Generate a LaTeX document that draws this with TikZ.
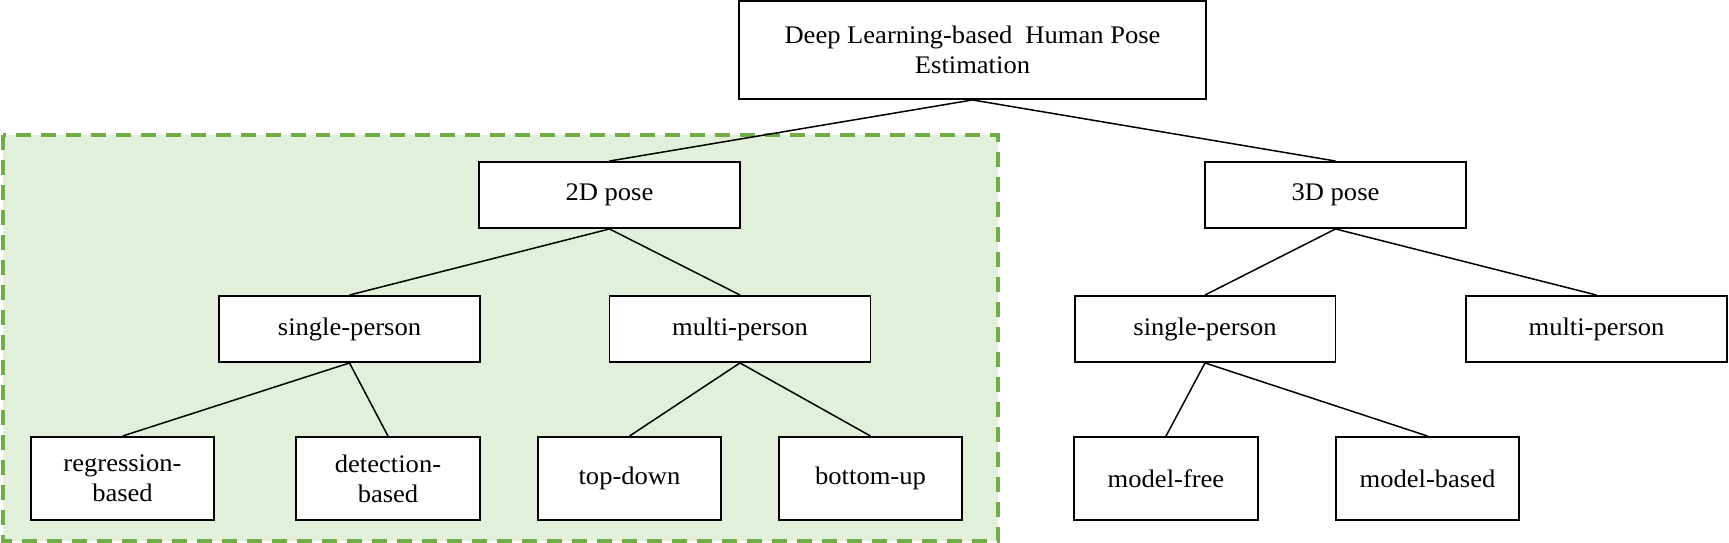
\documentclass[tikz,border=0pt]{standalone}
\usepackage{fontspec}
\setmainfont[FakeStretch=1.05]{Liberation Serif}
\definecolor{gfill}{HTML}{E2EFDA}
\definecolor{gline}{HTML}{70AD47}
\begin{document}
\begin{tikzpicture}[x=0.02cm,y=-0.02cm,
  box/.style={draw=black, line width=1.1pt, fill=white, align=center, inner sep=0pt,
    font=\fontsize{14.4}{17}\selectfont},
  topbox/.style={box, minimum width=9.34cm, minimum height=1.96cm},
  midbox/.style={box, minimum width=5.22cm, minimum height=1.32cm},
  leafbox/.style={box, minimum width=3.67cm, minimum height=1.66cm},
  link/.style={line width=0.85pt, draw=black},
  group/.style={fill=gfill, draw=gline, line width=2.3pt, dash pattern=on 0.3cm off 0.2cm}]
\useasboundingbox (0,0) rectangle (1729,543);
\draw[group] (3,135) rectangle (998,541);

\node[topbox] (top) at (972.5,50) {Deep Learning-based\hspace{0.25em} Human Pose\\Estimation};
\node[midbox] (p2d) at (609.5,195) {2D pose};
\node[midbox] (p3d) at (1335.5,195) {3D pose};
\node[midbox] (s2d) at (349.5,329) {single-person};
\node[midbox] (m2d) at (740,329) {multi-person};
\node[midbox] (s3d) at (1205,329) {single-person};
\node[midbox] (m3d) at (1596.5,329) {multi-person};
\node[leafbox] (reg) at (122.5,478.5) {regression-\\based};
\node[leafbox] (det) at (388,478.5) {detection-\\based};
\node[leafbox] (td) at (629.5,478.5) {top-down};
\node[leafbox] (bu) at (870.5,478.5) {bottom-up};
\node[leafbox] (mf) at (1166,478.5) {model-free};
\node[leafbox] (mb) at (1427.5,478.5) {model-based};

\draw[link] (top.south) -- (p2d.north);
\draw[link] (top.south) -- (p3d.north);
\draw[link] (p2d.south) -- (s2d.north);
\draw[link] (p2d.south) -- (m2d.north);
\draw[link] (p3d.south) -- (s3d.north);
\draw[link] (p3d.south) -- (m3d.north);
\draw[link] (s2d.south) -- (reg.north);
\draw[link] (s2d.south) -- (det.north);
\draw[link] (m2d.south) -- (td.north);
\draw[link] (m2d.south) -- (bu.north);
\draw[link] (s3d.south) -- (mf.north);
\draw[link] (s3d.south) -- (mb.north);
\end{tikzpicture}
\end{document}
